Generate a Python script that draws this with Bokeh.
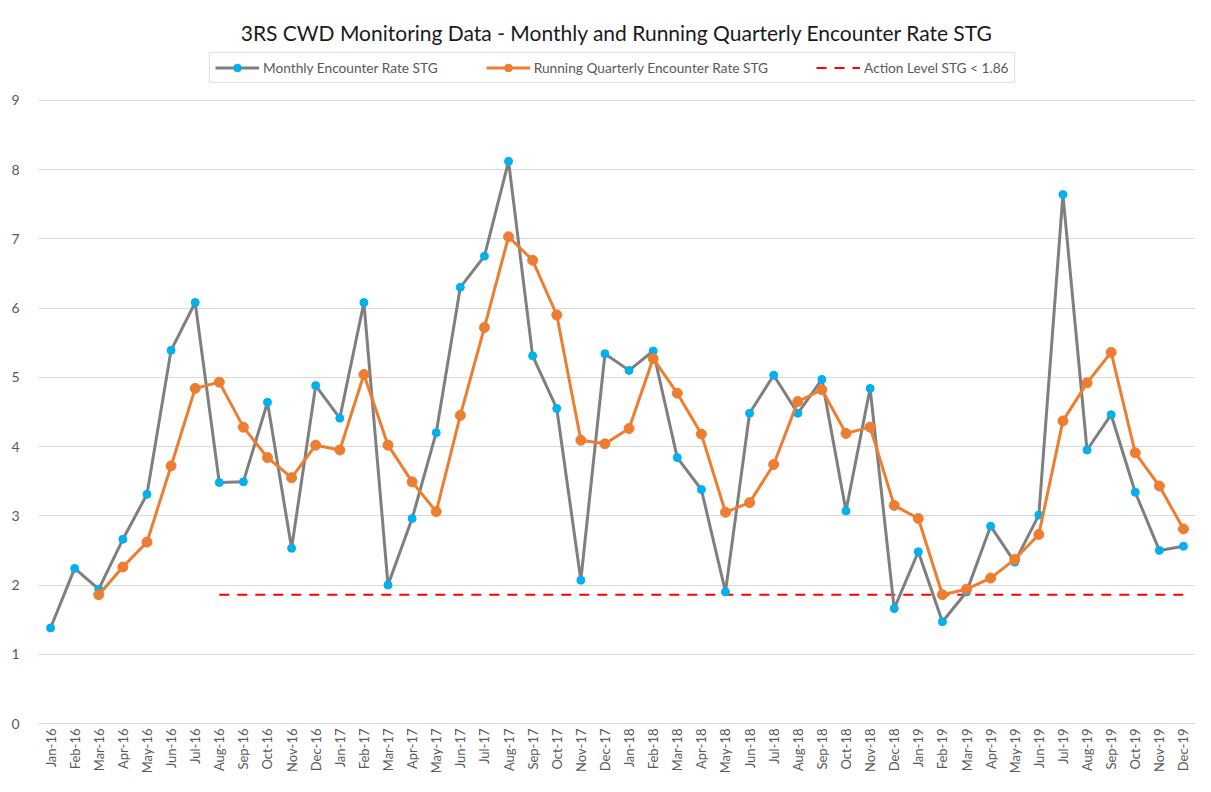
import math
from bokeh.plotting import figure
from bokeh.models import (FactorRange, Range1d, FixedTicker, Legend, LegendItem)
from bokeh.embed import file_html
from bokeh.resources import INLINE

months = ["Jan-16", "Feb-16", "Mar-16", "Apr-16", "May-16", "Jun-16", "Jul-16", "Aug-16",
          "Sep-16", "Oct-16", "Nov-16", "Dec-16",
          "Jan-17", "Feb-17", "Mar-17", "Apr-17", "May-17", "Jun-17", "Jul-17", "Aug-17",
          "Sep-17", "Oct-17", "Nov-17", "Dec-17",
          "Jan-18", "Feb-18", "Mar-18", "Apr-18", "May-18", "Jun-18", "Jul-18", "Aug-18",
          "Sep-18", "Oct-18", "Nov-18", "Dec-18",
          "Jan-19", "Feb-19", "Mar-19", "Apr-19", "May-19", "Jun-19", "Jul-19", "Aug-19",
          "Sep-19", "Oct-19", "Nov-19", "Dec-19"]

monthly = [1.38, 2.24, 1.94, 2.66, 3.31, 5.39, 6.08, 3.48, 3.49, 4.64, 2.53, 4.88,
           4.41, 6.08, 2.00, 2.96, 4.20, 6.30, 6.75, 8.12, 5.31, 4.55, 2.07, 5.34,
           5.10, 5.38, 3.84, 3.38, 1.90, 4.48, 5.03, 4.48, 4.97, 3.07, 4.84, 1.66,
           2.48, 1.47, 1.90, 2.85, 2.33, 3.01, 7.64, 3.95, 4.46, 3.34, 2.50, 2.56]

# Running quarterly rate starts at Mar-16
quarterly_months = months[2:]
quarterly = [1.86, 2.26, 2.62, 3.72, 4.84, 4.93, 4.28, 3.84, 3.55, 4.02,
             3.95, 5.04, 4.02, 3.49, 3.06, 4.45, 5.72, 7.03, 6.69, 5.90, 4.09, 4.04,
             4.26, 5.27, 4.77, 4.18, 3.05, 3.19, 3.74, 4.65, 4.82, 4.19, 4.28, 3.15,
             2.96, 1.86, 1.94, 2.10, 2.37, 2.73, 4.37, 4.92, 5.36, 3.91, 3.43, 2.81]

# Action level line drawn from Aug-16 to Dec-19
action_months = [months[7], months[-1]]
action_level = [1.86, 1.86]

y_ticks = [0, 1, 2, 3, 4, 5, 6, 7, 8, 9]

FONT = "Lato"
TXT = "#595959"
GRID = "#d9d9d9"

p = figure(x_range=FactorRange(*months, range_padding=0), y_range=Range1d(0, 9.72),
           width=1195, height=776, output_backend="svg", toolbar_location=None,
           min_border_left=38, min_border_right=0, min_border_top=50, min_border_bottom=51)

p.title.text = "3RS CWD Monitoring Data - Monthly and Running Quarterly Encounter Rate STG"
p.title.align = "center"
p.title.text_font = FONT
p.title.text_font_size = "21px"
p.title.text_font_style = "normal"
p.title.text_color = "#1a1a1a"
p.title.standoff = 12

p.outline_line_color = None
p.xgrid.grid_line_color = None
p.ygrid.grid_line_color = GRID
p.ygrid.grid_line_width = 1
p.ygrid.ticker = FixedTicker(ticks=y_ticks)

p.yaxis.ticker = FixedTicker(ticks=y_ticks)
p.yaxis.axis_line_color = None
p.yaxis.major_tick_line_color = None
p.yaxis.major_tick_out = 0
p.yaxis.major_tick_in = 0
p.yaxis.minor_tick_line_color = None
p.yaxis.major_label_standoff = 19
p.yaxis.major_label_text_font = FONT
p.yaxis.major_label_text_font_size = "14px"
p.yaxis.major_label_text_color = TXT

p.xaxis.axis_line_color = GRID
p.xaxis.axis_line_width = 1
p.xaxis.major_tick_line_color = None
p.xaxis.major_tick_out = 0
p.xaxis.major_tick_in = 0
p.xaxis.minor_tick_line_color = None
p.xaxis.major_label_orientation = math.pi / 2
p.xaxis.major_label_standoff = 5
p.xaxis.major_label_text_font = FONT
p.xaxis.major_label_text_font_size = "13px"
p.xaxis.major_label_text_color = TXT

r_action = p.line(action_months, action_level, line_color="#ff0000", line_width=2, line_dash="10 8")

r_m_line = p.line(months, monthly, line_color="#7f7f7f", line_width=3)
r_m_pts = p.scatter(months, monthly, size=8, fill_color="#00b0f0", line_color="#00b0f0")

r_q_line = p.line(quarterly_months, quarterly, line_color="#ed7d31", line_width=3)
r_q_pts = p.scatter(quarterly_months, quarterly, size=10, fill_color="#ed7d31", line_color="#ed7d31")

legend = Legend(items=[
    LegendItem(label="Monthly Encounter Rate STG", renderers=[r_m_line, r_m_pts]),
    LegendItem(label="Running Quarterly Encounter Rate STG", renderers=[r_q_line, r_q_pts]),
    LegendItem(label="Action Level STG < 1.86", renderers=[r_action]),
], orientation="horizontal", location=(171, 640))
legend.label_text_font = FONT
legend.label_text_font_size = "13.7px"
legend.label_text_color = TXT
legend.glyph_width = 44
legend.glyph_height = 19
legend.label_height = 19
legend.label_standoff = 4
legend.spacing = 48
legend.padding = 5
legend.margin = 0
legend.border_line_color = "#bfbfbf"
legend.border_line_width = 1
legend.background_fill_color = "white"
legend.background_fill_alpha = 1
p.add_layout(legend, "center")

open("out.html", "w").write(file_html(p, INLINE))
